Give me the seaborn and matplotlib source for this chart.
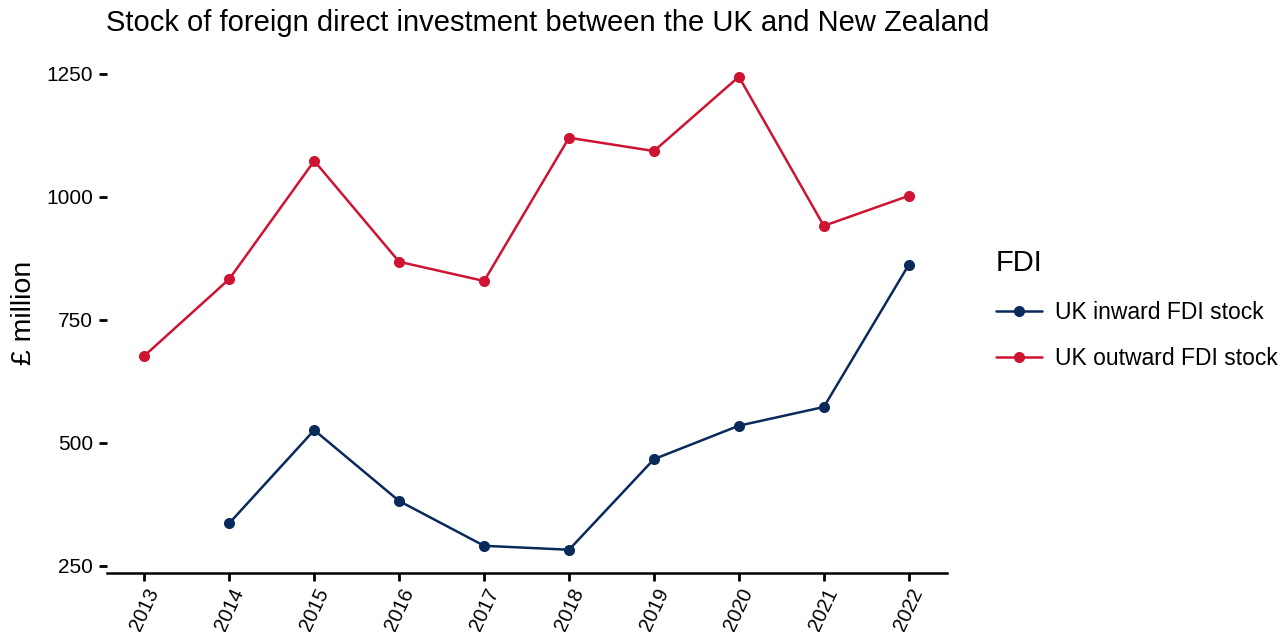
import pandas as pd
import seaborn as sns
import matplotlib.pyplot as plt
import numpy as np

years = [2013, 2014, 2015, 2016, 2017, 2018, 2019, 2020, 2021, 2022]
inward = [np.nan, 337, 526, 382, 291, 283, 467, 535, 573, 862]
outward = [677, 833, 1073, 868, 829, 1120, 1093, 1244, 941, 1002]
series_names = ["UK inward FDI stock", "UK outward FDI stock"]
colors = ["#0A2A5C", "#CE1432"]

df = pd.DataFrame({
    "Year": years * 2,
    "Value": inward + outward,
    "FDI": [series_names[0]] * len(years) + [series_names[1]] * len(years),
})

sns.set_style("white")
plt.rcParams["font.family"] = ["Liberation Sans", "DejaVu Sans"]
plt.rcParams["text.color"] = "black"

fig = plt.figure(figsize=(12.83, 6.32), dpi=100)
ax = fig.add_axes([0.0834, 0.0934, 0.6547, 0.8226])

sns.lineplot(data=df.dropna(), x="Year", y="Value", hue="FDI", palette=colors,
             marker="o", markersize=8, markeredgewidth=0, linewidth=1.8, ax=ax)

ax.set_xlim(2012.56, 2022.45)
ax.set_ylim(235.8, 1292)
ax.set_xticks(years)
ax.set_xticklabels([str(y) for y in years], rotation=65, fontsize=14.5)
ax.set_yticks([250, 500, 750, 1000, 1250])
ax.set_yticklabels(["250", "500", "750", "1000", "1250"], fontsize=15)
ax.tick_params(axis="both", direction="out", length=6, width=2, color="black",
               labelcolor="black", bottom=True, left=True)
ax.tick_params(axis="x", pad=3)
ax.tick_params(axis="y", pad=4)

for s in ["top", "right", "left"]:
    ax.spines[s].set_visible(False)
ax.spines["bottom"].set_linewidth(1.8)
ax.spines["bottom"].set_color("black")

ax.set_xlabel("")
ax.set_ylabel("£ million", fontsize=20.5, labelpad=7, color="black")
fig.text(0.0826, 0.963, "Stock of foreign direct investment between the UK and New Zealand",
         fontsize=21, ha="left", va="center")

handles, labels = ax.get_legend_handles_labels()
ax.get_legend().remove()
leg = fig.legend(handles, labels, title="FDI", loc="upper left",
                 bbox_to_anchor=(0.760, 0.638), frameon=False, fontsize=16.5,
                 title_fontsize=21, handlelength=2.0, handletextpad=0.6,
                 labelspacing=1.02)
leg._legend_box.align = "left"

fig.savefig("out.png", dpi=100)
